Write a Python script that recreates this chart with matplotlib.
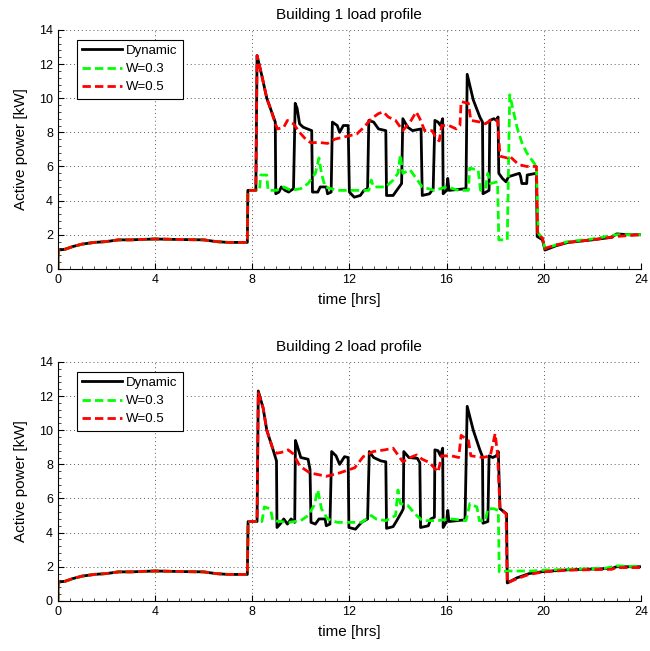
import matplotlib
matplotlib.use("Agg")
import matplotlib.pyplot as plt
from matplotlib.ticker import MultipleLocator

plt.rcParams["font.family"] = ["Liberation Sans", "DejaVu Sans"]

# night-time load shared by every series (hrs, kW)
base_t = [0, 0.01, 0.3, 0.6, 1.0, 1.5, 2.0, 2.5, 3.0, 4.0, 5.0, 6.0, 6.5, 7.0, 7.8]
base_p = [0, 1.1, 1.15, 1.3, 1.45, 1.55, 1.6, 1.7, 1.7, 1.75, 1.72, 1.7, 1.6, 1.55, 1.55]

# Building 1
b1_dyn_t = [7.82, 8.15, 8.2, 8.4, 8.6, 8.8, 8.95, 8.97, 9.1, 9.2, 9.35, 9.5, 9.7, 9.77, 9.85,
            9.95, 10.1, 10.45, 10.48, 10.7, 10.8, 11.05, 11.1, 11.25, 11.3, 11.5, 11.6, 11.75,
            11.95, 12.0, 12.2, 12.45, 12.6, 12.75, 12.8, 13.0, 13.2, 13.5, 13.53, 13.8, 13.95,
            14.15, 14.2, 14.4, 14.6, 14.95, 15.0, 15.3, 15.45, 15.52, 15.65, 15.75, 15.84, 15.86,
            16.0, 16.05, 16.1, 16.8, 16.85, 17.1, 17.37, 17.48, 17.5, 17.75, 17.78, 17.95, 18.05,
            18.12, 18.15, 18.3, 18.45, 18.55, 19.0, 19.05, 19.1, 19.3, 19.32, 19.7, 19.73, 19.95,
            20.05, 20.5, 21.0, 22.0, 22.8, 23.0, 23.5, 24.0]
b1_dyn_p = [4.6, 4.6, 12.5, 11.3, 10.0, 9.2, 8.6, 4.4, 4.5, 4.8, 4.6, 4.5, 4.7, 9.7, 9.4,
            8.5, 8.3, 8.1, 4.5, 4.5, 4.8, 4.8, 4.4, 4.5, 8.6, 8.4, 8.0, 8.4,
            8.4, 4.5, 4.2, 4.3, 4.6, 4.7, 8.7, 8.6, 8.2, 8.1, 4.3, 4.3, 4.6,
            5.0, 8.8, 8.3, 8.1, 8.2, 4.3, 4.4, 4.7, 8.7, 8.6, 8.4, 8.8, 4.4,
            4.6, 5.3, 4.6, 4.7, 11.4, 9.9, 8.9, 8.6, 4.4, 4.6, 8.7, 8.8, 8.7,
            8.9, 5.6, 5.3, 5.1, 5.4, 5.6, 5.4, 5.0, 5.0, 5.5, 5.6, 1.9, 1.7,
            1.1, 1.35, 1.55, 1.7, 1.85, 2.05, 2.0, 2.0]

b1_w3_t = [7.82, 8.3, 8.35, 8.6, 8.65, 9.0, 9.3, 9.6, 10.0, 10.3, 10.6, 10.75, 10.85, 11.0,
           11.5, 12.0, 12.8, 12.9, 13.0, 13.5, 13.8, 14.0, 14.1, 14.2, 14.5, 14.8, 15.0, 15.5,
           16.0, 16.5, 16.9, 16.95, 17.3, 17.4, 17.6, 17.7, 17.8, 18.1, 18.15, 18.5, 18.6,
           18.9, 19.1, 19.3, 19.7, 19.77, 19.95, 20.05, 20.5, 21.0, 22.0, 23.0, 24.0]
b1_w3_p = [4.6, 4.6, 5.5, 5.5, 4.6, 4.6, 4.8, 4.6, 4.7, 5.0, 5.6, 6.5, 5.6, 4.8,
           4.6, 4.6, 4.6, 5.2, 4.8, 4.8, 5.2, 5.6, 6.7, 5.6, 5.8, 5.2, 4.8, 4.6,
           4.8, 4.6, 4.6, 5.9, 5.8, 4.6, 4.7, 5.6, 5.0, 5.1, 1.7, 1.7, 10.2,
           8.3, 7.4, 6.8, 6.0, 2.1, 1.8, 1.2, 1.4, 1.6, 1.75, 2.0, 2.0]

b1_w5_t = [7.82, 8.15, 8.2, 8.4, 8.6, 8.8, 8.95, 9.05, 9.3, 9.45, 9.7, 9.95, 10.2, 10.4,
           10.8, 11.1, 11.4, 11.7, 12.0, 12.3, 12.6, 12.9, 13.2, 13.4, 13.6, 13.9, 14.2, 14.5,
           14.75, 14.9, 15.1, 15.4, 15.6, 15.7, 15.8, 16.1, 16.4, 16.55, 16.6, 16.9, 17.0,
           17.4, 17.6, 17.8, 18.1, 18.2, 18.5, 18.6, 18.9, 19.0, 19.3, 19.7, 19.75, 19.95,
           20.05, 20.5, 21.0, 22.0, 23.0, 24.0]
b1_w5_p = [4.6, 4.6, 12.5, 11.3, 10.0, 9.2, 8.5, 8.2, 8.3, 8.7, 8.5, 8.0, 7.6, 7.4,
           7.4, 7.35, 7.6, 7.7, 7.8, 7.9, 8.3, 8.8, 9.1, 9.2, 8.9, 8.7, 8.1, 8.6,
           9.2, 8.8, 8.1, 8.1, 7.6, 7.5, 8.4, 8.4, 8.2, 8.4, 9.8, 9.7, 8.7,
           8.6, 8.5, 8.7, 8.7, 6.6, 6.5, 6.6, 6.2, 6.1, 6.0, 6.0, 2.0, 1.8,
           1.2, 1.4, 1.55, 1.7, 1.9, 2.0]

# Building 2
b2_dyn_t = [7.83, 8.2, 8.25, 8.45, 8.6, 8.85, 9.0, 9.02, 9.15, 9.3, 9.45, 9.6, 9.75, 9.78,
            9.85, 10.0, 10.3, 10.38, 10.42, 10.6, 10.75, 11.0, 11.05, 11.2, 11.27, 11.45, 11.6,
            11.8, 11.95, 11.98, 12.25, 12.5, 12.75, 12.82, 13.0, 13.3, 13.5, 13.53, 13.8, 13.95,
            14.15, 14.22, 14.24, 14.45, 14.8, 14.9, 14.93, 15.25, 15.35, 15.5, 15.52, 15.65,
            15.75, 15.84, 15.86, 16.0, 16.05, 16.1, 16.76, 16.85, 17.1, 17.37, 17.48, 17.5, 17.7,
            17.75, 17.9, 18.05, 18.13, 18.2, 18.47, 18.5, 18.9, 19.4, 20.0, 21.0, 22.8, 23.0, 24.0]
b2_dyn_p = [4.65, 4.65, 12.3, 11.3, 10.0, 8.9, 8.2, 4.3, 4.5, 4.8, 4.5, 4.8, 4.6, 9.4,
            9.1, 8.4, 8.3, 7.7, 4.6, 4.5, 4.8, 4.8, 4.4, 4.5, 8.75, 8.5, 8.0,
            8.45, 8.4, 4.3, 4.2, 4.6, 4.8, 8.75, 8.4, 8.2, 8.15, 4.25, 4.35, 4.7,
            5.2, 5.4, 8.75, 8.4, 8.35, 8.1, 4.3, 4.4, 4.8, 4.9, 8.85, 8.8,
            8.5, 8.95, 4.3, 4.65, 5.3, 4.65, 4.75, 11.4, 10.0, 8.85, 8.45, 4.55, 4.65,
            8.5, 8.4, 8.5, 8.75, 5.4, 5.1, 1.05, 1.35, 1.6, 1.72, 1.82, 1.9, 2.0, 2.0]

b2_w3_t = [7.83, 8.4, 8.5, 8.75, 8.85, 9.5, 10.0, 10.3, 10.55, 10.7, 10.85, 11.1, 11.5, 12.5,
           12.9, 13.1, 13.5, 13.9, 14.0, 14.1, 14.4, 14.7, 15.0, 15.6, 16.2, 16.8, 16.96,
           17.25, 17.35, 17.6, 17.7, 17.95, 18.13, 18.17, 18.6, 19.5, 20.0, 21.0, 22.5, 23.0,
           24.0]
b2_w3_p = [4.65, 4.65, 5.5, 5.4, 4.7, 4.6, 4.7, 5.0, 5.6, 6.5, 5.4, 4.8, 4.6, 4.6,
           5.0, 4.8, 4.7, 5.0, 6.5, 5.7, 5.6, 5.1, 4.7, 4.7, 4.8, 4.7, 5.7,
           5.5, 4.7, 4.7, 5.4, 5.4, 5.3, 1.7, 1.75, 1.75, 1.8, 1.85, 1.9, 2.05,
           2.0]

b2_w5_t = [7.83, 8.2, 8.25, 8.45, 8.6, 8.85, 9.0, 9.2, 9.48, 9.7, 9.96, 10.37, 11.06, 11.6,
           12.22, 12.57, 12.98, 13.46, 13.8, 14.2, 14.5, 14.77, 15.0, 15.3, 15.65, 15.8, 16.2,
           16.5, 16.6, 16.9, 17.0, 17.5, 17.8, 18.0, 18.1, 18.2, 18.45, 18.5, 18.9, 19.4, 20.0,
           21.0, 22.8, 23.0, 24.0]
b2_w5_p = [4.65, 4.65, 12.2, 11.3, 10.0, 8.9, 8.65, 8.7, 8.85, 8.6, 7.9, 7.5, 7.3, 7.5,
           7.8, 8.45, 8.75, 8.85, 8.95, 8.15, 8.4, 8.55, 8.3, 8.1, 7.55, 8.5, 8.5,
           8.4, 9.7, 9.4, 8.5, 8.4, 8.5, 9.8, 8.6, 5.4, 5.1, 1.05, 1.3, 1.55, 1.7,
           1.8, 1.85, 1.95, 1.95]

titles = ["Building 1 load profile", "Building 2 load profile"]
labels = ["Dynamic", "W=0.3", "W=0.5"]
xticks = [0, 4, 8, 12, 16, 20, 24]
yticks = [0, 2, 4, 6, 8, 10, 12, 14]

buildings = [
    [(b1_dyn_t, b1_dyn_p), (b1_w3_t, b1_w3_p), (b1_w5_t, b1_w5_p)],
    [(b2_dyn_t, b2_dyn_p), (b2_w3_t, b2_w3_p), (b2_w5_t, b2_w5_p)],
]
styles = [
    dict(color="black", lw=2.0, ls="-"),
    dict(color="#00ff00", lw=2.0, ls=(0, (3.0, 1.5))),
    dict(color="#ff0000", lw=2.0, ls=(0, (3.0, 1.5))),
]

fig = plt.figure(figsize=(6.5, 6.51), dpi=100)
positions = [[0.089, 0.587, 0.897, 0.367], [0.089, 0.077, 0.897, 0.367]]

for pos, title, series in zip(positions, titles, buildings):
    ax = fig.add_axes(pos)
    for (t, p), st, lab in zip(series, styles, labels):
        ax.plot(base_t + t, base_p + p, label=lab, **st)

    ax.set_xlim(0, 24)
    ax.set_ylim(0, 14)
    ax.set_xticks(xticks)
    ax.set_yticks(yticks)
    ax.xaxis.set_minor_locator(MultipleLocator(0.5))
    ax.yaxis.set_minor_locator(MultipleLocator(0.4))
    ax.tick_params(which="both", direction="in", labelsize=9)
    ax.tick_params(which="major", length=4, width=0.8)
    ax.tick_params(which="minor", length=2, width=0.5)
    ax.grid(True, which="major", color="0.35", ls=(0, (1, 3)), lw=0.7)
    ax.spines["top"].set_visible(False)
    ax.spines["right"].set_visible(False)

    ax.set_title(title, fontsize=11, pad=8)
    ax.set_xlabel("time [hrs]", fontsize=11, labelpad=5)
    ax.set_ylabel("Active power [kW]", fontsize=11, labelpad=8)

    leg = ax.legend(loc="upper left", bbox_to_anchor=(0.033, 0.96), fontsize=9.5,
                    fancybox=False, framealpha=1, edgecolor="black",
                    handlelength=3.0, borderpad=0.4, labelspacing=0.45,
                    handletextpad=0.3, borderaxespad=0)
    leg.get_frame().set_linewidth(0.8)

fig.savefig("out.png", dpi=100)
